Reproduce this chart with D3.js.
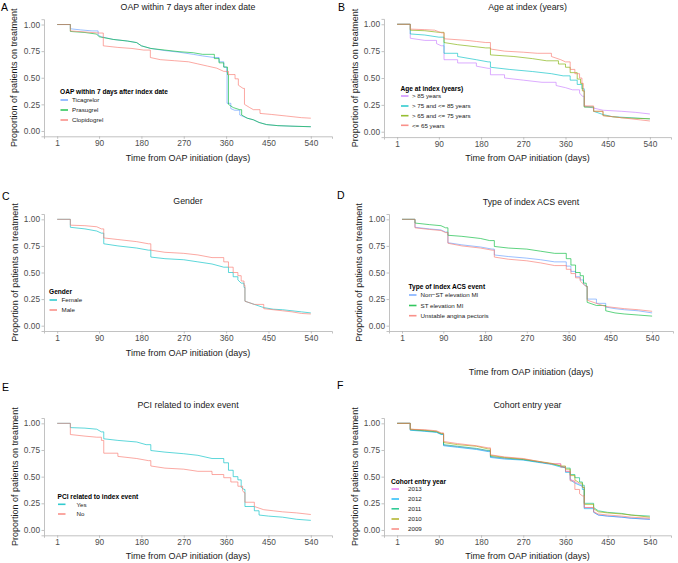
<!DOCTYPE html>
<html>
<head>
<meta charset="utf-8">
<script src="https://cdn.jsdelivr.net/npm/d3@7"></script>
<style>
  body { margin: 0; background: #fff; }
  svg { display: block; font-family: "Liberation Sans", Arial, sans-serif; }
</style>
</head>
<body>
<svg id="chart" width="678" height="563"></svg>
<script>
// tick labels
const xTicks = [1, 90, 180, 270, 360, 450, 540];
const yTicks = [0, 0.25, 0.5, 0.75, 1];

// A - OAP within 7 days after index date  ([day, proportion])
const aTicagrelor = [[1,1],[29,0.96],[50,0.95],[75,0.94],[88,0.9],[95,0.885],[120,0.86],[150,0.845],[170,0.83],[180,0.8],[200,0.775],[230,0.755],[260,0.74],[290,0.72],[310,0.705],[335,0.69],[345,0.65],[355,0.6],[361,0.55],[362,0.26],[370,0.21],[378,0.195],[389,0.15],[405,0.12],[418,0.105],[430,0.08],[446,0.06],[470,0.05],[500,0.045],[540,0.04]];
const aPrasugrel = [[1,1],[29,0.935],[60,0.925],[85,0.91],[90,0.885],[120,0.86],[150,0.845],[170,0.83],[180,0.8],[200,0.775],[230,0.76],[260,0.745],[290,0.735],[310,0.72],[335,0.68],[345,0.64],[355,0.6],[363,0.53],[365,0.25],[375,0.22],[389,0.2],[393,0.15],[405,0.12],[418,0.105],[430,0.08],[446,0.06],[470,0.05],[500,0.045],[540,0.04]];
const aClopidogrel = [[1,1],[29,0.94],[60,0.93],[90,0.92],[99,0.8],[130,0.785],[160,0.775],[185,0.76],[199,0.69],[220,0.67],[250,0.66],[280,0.65],[300,0.63],[320,0.61],[340,0.59],[355,0.56],[365,0.53],[379,0.49],[386,0.43],[396,0.4],[399,0.25],[410,0.22],[418,0.2],[432,0.165],[457,0.155],[489,0.14],[520,0.125],[540,0.12]];

// B - Age at index (years)
const bOver85 = [[1,1],[29,0.87],[60,0.85],[85,0.82],[95,0.8],[101,0.67],[130,0.64],[170,0.61],[195,0.59],[200,0.53],[230,0.5],[270,0.48],[310,0.46],[340,0.43],[360,0.41],[375,0.39],[390,0.36],[396,0.33],[400,0.24],[420,0.22],[440,0.2],[480,0.19],[510,0.18],[540,0.165]];
const b75to85 = [[1,1],[29,0.91],[60,0.9],[90,0.88],[101,0.73],[130,0.7],[170,0.67],[195,0.65],[200,0.6],[240,0.58],[290,0.56],[330,0.54],[355,0.52],[370,0.48],[385,0.44],[395,0.4],[400,0.23],[420,0.19],[440,0.16],[460,0.14],[500,0.13],[540,0.12]];
const b65to75 = [[1,1],[29,0.945],[60,0.94],[90,0.925],[101,0.83],[130,0.81],[150,0.8],[190,0.78],[200,0.715],[250,0.7],[290,0.68],[320,0.66],[345,0.63],[360,0.6],[370,0.55],[385,0.49],[392,0.45],[396,0.38],[400,0.23],[420,0.19],[440,0.15],[460,0.14],[480,0.13],[540,0.12]];
const bUnder65 = [[1,1],[29,0.955],[60,0.95],[81,0.945],[90,0.93],[96,0.92],[101,0.865],[150,0.85],[170,0.84],[190,0.83],[200,0.77],[230,0.75],[270,0.74],[300,0.73],[330,0.7],[350,0.67],[360,0.65],[370,0.58],[380,0.54],[390,0.5],[395,0.45],[398,0.38],[400,0.24],[420,0.19],[440,0.15],[460,0.14],[480,0.13],[520,0.11],[540,0.1]];

// C - Gender
const cFemale = [[1,1],[29,0.925],[60,0.91],[85,0.89],[95,0.87],[100,0.77],[130,0.75],[170,0.73],[195,0.71],[200,0.645],[230,0.63],[270,0.62],[300,0.6],[330,0.58],[355,0.55],[365,0.5],[375,0.46],[385,0.43],[392,0.4],[398,0.36],[400,0.23],[420,0.2],[440,0.17],[460,0.155],[480,0.15],[500,0.14],[520,0.13],[540,0.12]];
const cMale = [[1,1],[29,0.945],[60,0.94],[85,0.93],[95,0.91],[100,0.825],[130,0.81],[170,0.79],[195,0.77],[200,0.71],[230,0.69],[270,0.68],[300,0.665],[330,0.64],[355,0.6],[365,0.55],[375,0.5],[385,0.47],[392,0.42],[398,0.38],[400,0.23],[420,0.2],[440,0.16],[460,0.15],[480,0.14],[500,0.13],[520,0.115],[540,0.11]];

// D - Type of index ACS event
const dNonST = [[1,1],[29,0.925],[60,0.91],[85,0.9],[95,0.88],[100,0.78],[130,0.76],[170,0.74],[195,0.72],[200,0.665],[230,0.65],[270,0.635],[300,0.62],[330,0.6],[355,0.56],[365,0.51],[375,0.46],[385,0.43],[392,0.39],[398,0.37],[400,0.25],[420,0.21],[440,0.175],[460,0.16],[480,0.15],[510,0.14],[540,0.12]];
const dST = [[1,1],[29,0.965],[60,0.95],[85,0.94],[95,0.92],[100,0.85],[130,0.84],[170,0.82],[190,0.8],[200,0.745],[230,0.73],[270,0.72],[300,0.7],[330,0.68],[355,0.63],[365,0.57],[375,0.5],[385,0.47],[392,0.4],[398,0.37],[400,0.22],[420,0.19],[440,0.14],[460,0.12],[480,0.11],[510,0.1],[540,0.09]];
const dUnstable = [[1,1],[29,0.92],[60,0.905],[85,0.895],[95,0.875],[100,0.775],[130,0.75],[170,0.73],[195,0.71],[200,0.645],[230,0.625],[270,0.61],[300,0.59],[330,0.565],[355,0.53],[365,0.49],[375,0.45],[385,0.42],[392,0.39],[398,0.37],[400,0.24],[420,0.21],[440,0.18],[460,0.17],[480,0.16],[510,0.15],[540,0.135]];

// E - PCI related to index event
const eYes = [[1,1],[29,0.96],[60,0.955],[85,0.945],[95,0.92],[100,0.855],[130,0.84],[170,0.825],[190,0.8],[200,0.745],[230,0.73],[270,0.715],[300,0.7],[330,0.67],[355,0.63],[365,0.56],[375,0.5],[385,0.47],[392,0.4],[398,0.38],[400,0.22],[420,0.18],[430,0.14],[450,0.13],[480,0.12],[510,0.1],[540,0.09]];
const eNo = [[1,1],[29,0.895],[60,0.88],[85,0.87],[95,0.84],[100,0.72],[130,0.69],[170,0.67],[195,0.65],[200,0.6],[230,0.58],[270,0.57],[300,0.55],[330,0.52],[355,0.49],[370,0.45],[385,0.41],[395,0.37],[398,0.35],[400,0.26],[420,0.22],[440,0.19],[460,0.18],[480,0.17],[510,0.16],[540,0.145]];

// F - Cohort entry year
const f2013 = [[1,1],[29,0.94],[60,0.93],[85,0.92],[95,0.9],[100,0.795],[130,0.78],[170,0.76],[195,0.74],[200,0.685],[230,0.67],[270,0.66],[300,0.64],[330,0.62],[350,0.59],[360,0.55],[370,0.48],[380,0.45],[390,0.43],[396,0.4],[400,0.21],[420,0.17],[430,0.14],[450,0.13],[480,0.12],[500,0.11],[540,0.1]];
const f2012 = [[1,1],[29,0.935],[60,0.925],[85,0.915],[95,0.895],[100,0.79],[130,0.775],[170,0.755],[195,0.735],[200,0.68],[230,0.665],[270,0.655],[300,0.635],[330,0.615],[350,0.59],[360,0.54],[370,0.47],[380,0.44],[390,0.42],[396,0.38],[400,0.2],[420,0.165],[430,0.14],[450,0.13],[480,0.12],[500,0.11],[540,0.1]];
const f2011 = [[1,1],[29,0.94],[60,0.93],[85,0.92],[95,0.9],[100,0.8],[130,0.785],[170,0.765],[195,0.745],[200,0.69],[230,0.675],[270,0.66],[300,0.64],[330,0.62],[350,0.6],[360,0.58],[370,0.52],[380,0.49],[390,0.45],[396,0.42],[400,0.25],[420,0.21],[430,0.18],[450,0.165],[480,0.155],[500,0.14],[540,0.13]];
const f2010 = [[1,1],[29,0.945],[60,0.935],[85,0.925],[95,0.905],[100,0.82],[130,0.8],[170,0.785],[195,0.76],[200,0.7],[230,0.68],[270,0.665],[300,0.645],[330,0.625],[350,0.6],[360,0.57],[370,0.51],[380,0.47],[390,0.44],[396,0.4],[400,0.24],[420,0.2],[430,0.17],[450,0.16],[480,0.15],[500,0.14],[540,0.12]];
const f2009 = [[1,1],[29,0.945],[60,0.94],[85,0.93],[95,0.91],[100,0.83],[130,0.81],[170,0.79],[195,0.77],[200,0.705],[230,0.685],[270,0.67],[300,0.645],[330,0.62],[350,0.59],[360,0.55],[370,0.46],[380,0.38],[390,0.34],[396,0.32],[400,0.21],[420,0.17],[430,0.15],[450,0.14],[480,0.13],[500,0.12],[540,0.11]];

// ggplot hue colours
const red = "#F8766D", green3 = "#00BA38", blue3 = "#619CFF";
const olive4 = "#7CAE00", cyan = "#00BFC4", purple4 = "#C77CFF";
const olive5 = "#A3A500", green5 = "#00BF7D", blue5 = "#00B0F6", pink5 = "#E76BF3";

const panels = [
  { letter: "A", title: "OAP within 7 days after index date", legendTitle: "OAP within 7 days after index date",
    series: [["Ticagrelor", blue3, aTicagrelor], ["Prasugrel", green3, aPrasugrel], ["Clopidogrel", red, aClopidogrel]],
    box: { left: 44, right: 332, top: 19.2, bottom: 136.3 }, letterPos: [1, 11], titleY: 10, xTitleY: 161, yTitleX: 14,
    legend: { x: 60, titleY: 94, items: [100, 110, 120], labelX: 72 } },
  { letter: "B", title: "Age at index (years)", legendTitle: "Age at index (years)",
    series: [["> 85 years", purple4, bOver85], ["> 75 and <= 85 years", cyan, b75to85], ["> 65 and <= 75 years", olive4, b65to75], ["<= 65 years", red, bUnder65]],
    box: { left: 384, right: 671, top: 18.9, bottom: 137.1 }, letterPos: [338, 11], titleY: 10, xTitleY: 161, yTitleX: 355,
    legend: { x: 400.5, titleY: 90.5, items: [96, 106, 115.7, 125.3], labelX: 412 } },
  { letter: "C", title: "Gender", legendTitle: "Gender",
    series: [["Female", cyan, cFemale], ["Male", red, cMale]],
    box: { left: 44, right: 332, top: 214, bottom: 331 }, letterPos: [2, 199.5], titleY: 204, xTitleY: 356, yTitleX: 15,
    legend: { x: 49, titleY: 294, items: [300, 310], labelX: 61.5 } },
  { letter: "D", title: "Type of index ACS event", legendTitle: "Type of index ACS event",
    series: [["Non\u2212ST elevation MI", blue3, dNonST], ["ST elevation MI", green3, dST], ["Unstable angina pectoris", red, dUnstable]],
    box: { left: 389, right: 673, top: 214, bottom: 331 }, letterPos: [337, 199], titleY: 204.5, xTitleY: 375, yTitleX: 359,
    legend: { x: 408.5, titleY: 289, items: [295, 305.5, 315.7], labelX: 420.5 } },
  { letter: "E", title: "PCI related to index event", legendTitle: "PCI related to index event",
    series: [["Yes", cyan, eYes], ["No", red, eNo]],
    box: { left: 44, right: 332, top: 418, bottom: 535.3 }, letterPos: [2, 391], titleY: 407.5, xTitleY: 559, yTitleX: 15,
    legend: { x: 57.5, titleY: 498.5, items: [504.3, 514], labelX: 76.5 } },
  { letter: "F", title: "Cohort entry year", legendTitle: "Cohort entry year",
    series: [["2013", pink5, f2013], ["2012", blue5, f2012], ["2011", green5, f2011], ["2010", olive5, f2010], ["2009", red, f2009]],
    box: { left: 384, right: 671, top: 418, bottom: 535.3 }, letterPos: [337, 388.5], titleY: 407.5, xTitleY: 559, yTitleX: 355,
    legend: { x: 391, titleY: 483.5, items: [489, 499, 508.8, 519, 529], labelX: 408 } }
];

// big drops are drawn as vertical steps, the many small KM steps in between
// blur into a slope at this size, so those segments are drawn straight
const stepPoints = (data) => {
  const out = [data[0]];
  for (let i = 1; i < data.length; i++) {
    const prev = data[i - 1], cur = data[i];
    if (prev[1] - cur[1] > 0.03) out.push([cur[0], prev[1]]);
    out.push(cur);
  }
  return out;
};

const svg = d3.select("#chart");
svg.append("rect").attr("width", 678).attr("height", 563).attr("fill", "#fff");

const axisColor = "#b3b3b3";

panels.forEach((p) => {
  const b = p.box;
  const g = svg.append("g");

  const x = d3.scaleLinear().domain([-27, 585]).range([b.left, b.right]);
  const y = d3.scaleLinear().domain([-0.05, 1.05]).range([b.bottom, b.top]);

  // y axis
  const yAxis = g.append("g").attr("transform", `translate(${b.left},0)`)
    .call(d3.axisLeft(y).tickValues(yTicks).tickFormat(d3.format(".2f")).tickSizeOuter(0).tickSize(2.5).tickPadding(1.5));
  yAxis.select(".domain").attr("stroke", axisColor).attr("stroke-width", 0.8);
  yAxis.selectAll(".tick line").attr("stroke", axisColor).attr("stroke-width", 0.8);
  yAxis.selectAll("text").attr("font-size", 8.3).attr("fill", "#4d4d4d").attr("font-family", null);

  // x axis
  const xAxis = g.append("g").attr("transform", `translate(0,${b.bottom})`)
    .call(d3.axisBottom(x).tickValues(xTicks).tickFormat(d3.format("d")).tickSizeOuter(0).tickSize(2.5).tickPadding(1.5));
  xAxis.select(".domain").attr("stroke", axisColor).attr("stroke-width", 0.8);
  xAxis.selectAll(".tick line").attr("stroke", axisColor).attr("stroke-width", 0.8);
  xAxis.selectAll("text").attr("font-size", 8.3).attr("fill", "#4d4d4d").attr("font-family", null);

  // curves
  const line = d3.line().x((d) => x(d[0])).y((d) => y(d[1]));
  p.series.forEach(([name, color, data]) => {
    g.append("path").datum(stepPoints(data))
      .attr("d", line)
      .attr("fill", "none")
      .attr("stroke", color)
      .attr("stroke-width", 0.85)
      .attr("opacity", 0.75);
  });

  // titles
  const cx = (b.left + b.right) / 2;
  g.append("text").attr("x", cx).attr("y", p.titleY).attr("text-anchor", "middle")
    .attr("font-size", 8.8).attr("fill", "#1a1a1a").text(p.title);
  g.append("text").attr("x", cx).attr("y", p.xTitleY).attr("text-anchor", "middle")
    .attr("font-size", 9).attr("fill", "#1a1a1a").text("Time from OAP initiation (days)");
  g.append("text")
    .attr("transform", `translate(${p.yTitleX + 3},${(b.top + b.bottom) / 2}) rotate(-90)`)
    .attr("text-anchor", "middle").attr("font-size", 9).attr("fill", "#1a1a1a")
    .text("Proportion of patients on treatment");
  g.append("text").attr("x", p.letterPos[0]).attr("y", p.letterPos[1])
    .attr("font-size", 10.5).attr("fill", "#000").text(p.letter);

  // legend
  const lg = p.legend;
  g.append("text").attr("x", lg.x).attr("y", lg.titleY).attr("font-size", 6.6)
    .attr("font-weight", "bold").attr("fill", "#000").text(p.legendTitle);
  p.series.forEach(([name, color], i) => {
    const yy = lg.items[i];
    g.append("line").attr("x1", lg.x + 0.5).attr("x2", lg.x + 8).attr("y1", yy).attr("y2", yy)
      .attr("stroke", color).attr("stroke-width", 1.6).attr("opacity", 0.8);
    g.append("text").attr("x", lg.labelX).attr("y", yy + 2.2).attr("font-size", 6.2)
      .attr("fill", "#1a1a1a").text(name);
  });
});
</script>
</body>
</html>
